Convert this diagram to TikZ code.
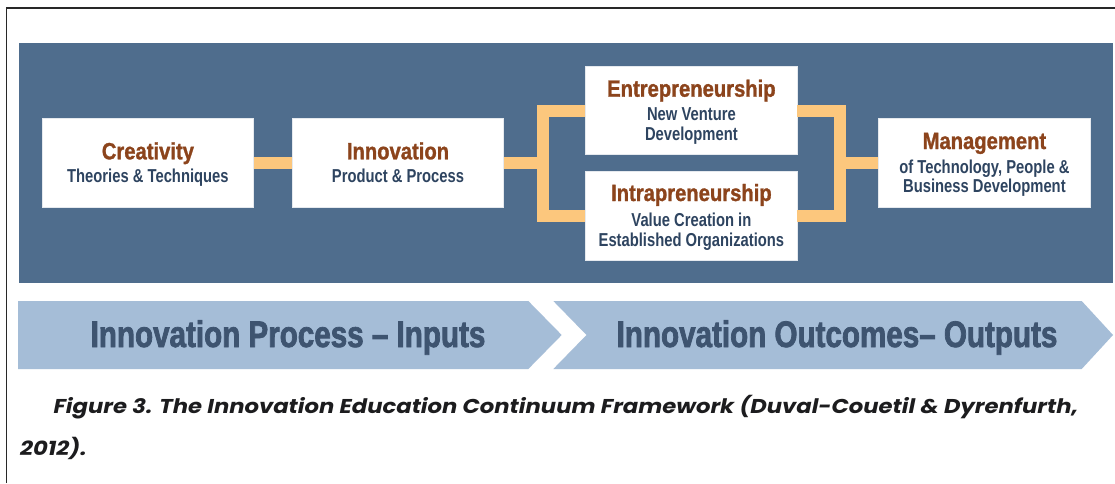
\documentclass[tikz,border=0pt]{standalone}
\usepackage{fontspec}
\usetikzlibrary{calc}
\newfontfamily\ttlfont{Liberation Sans Bold}[FakeStretch=0.86,FakeBold=1.2]
\newfontfamily\subfont{Liberation Sans Bold}[FakeStretch=0.79]
\newfontfamily\chevfont{Liberation Sans Bold}[FakeStretch=0.80,FakeBold=2]
\newfontfamily\capfont{Poppins Bold Italic}[FakeStretch=1.135]
\definecolor{panelc}{RGB}{79,109,141}
\definecolor{ttlc}{RGB}{140,68,28}
\definecolor{subc}{RGB}{46,68,96}
\definecolor{connc}{RGB}{252,199,125}
\definecolor{chevc}{RGB}{165,189,215}
\definecolor{chevtc}{RGB}{62,84,112}
\definecolor{capc}{RGB}{28,28,30}
\definecolor{bordc}{RGB}{40,40,40}
\begin{document}
\begin{tikzpicture}[x=1pt,y=-1pt,
  box/.style={fill=white, draw=white!85!panelc, line width=0.6pt, minimum width=211.5pt, minimum height=88.4pt, inner sep=0pt},
  conn/.style={draw=connc, line width=12pt},
  ttl/.style={font=\ttlfont\fontsize{23.5}{24}\selectfont, text=ttlc, anchor=base, inner sep=0pt},
  sub/.style={font=\subfont\fontsize{18.7}{19}\selectfont, text=subc, anchor=base, inner sep=0pt},
  chevtxt/.style={font=\chevfont\fontsize{37}{38}\selectfont, text=chevtc, anchor=base, inner sep=0pt},
  captxt/.style={font=\capfont\fontsize{20}{21}\selectfont, text=capc, anchor=base west, inner sep=0pt}
]
\useasboundingbox (0,0) rectangle (1115,483);
\fill[white] (0,0) rectangle (1115,483);
% frame
\draw[bordc, line width=1.3pt] (6.5,483) -- (6.5,8) -- (1115,8);
% panel
\fill[panelc] (18.6,43) rectangle (1113,283);
% boxes
\node[box] (cre) at (147.9,162.9) {};
\node[box] (inn) at (398,162.9) {};
\node[box] (ent) at (691.4,110.5) {};
\node[box] (int) at (691.4,215.7) {};
\node[box] (mgt) at (984.3,162.9) {};
% connectors
\coordinate (lj) at (543,162.9);
\coordinate (rj) at (840,162.9);
\draw[conn] (cre.east) -- (inn.west);
\draw[conn] (inn.east) -- (lj);
\draw[conn] (ent.west) -| (lj) |- (int.west);
\draw[conn] (ent.east) -| (rj) |- (int.east);
\draw[conn] (rj) -- (mgt.west);
% texts
\node[ttl] (cre-t) at (147.9,159.3) {Creativity};
\node[sub] (cre-s) at (147.9,182.7) {Theories \& Techniques};
\node[ttl] (inn-t) at (398,159.3) {Innovation};
\node[sub] (inn-s) at (398,182.7) {Product \& Process};
\node[ttl] (ent-t) at (691.4,96.7) {Entrepreneurship};
\node[sub] (ent-s1) at (691.4,120.7) {New Venture};
\node[sub] (ent-s2) at (691.4,140) {Development};
\node[ttl] (int-t) at (691.4,201) {Intrapreneurship};
\node[sub] (int-s1) at (691.4,226.7) {Value Creation in};
\node[sub] (int-s2) at (691.4,246) {Established Organizations};
\node[ttl] (mgt-t) at (984.4,149) {Management};
\node[sub] (mgt-s1) at (984.4,173.3) {of Technology, People \&};
\node[sub] (mgt-s2) at (984.4,192.7) {Business Development};
% chevrons
\fill[chevc] (18,301) -- (528.3,301) -- (561.7,335) -- (528.3,369) -- (18,369) -- cycle;
\fill[chevc] (553.3,301) -- (1081.7,301) -- (1113,335) -- (1081.7,369) -- (553.3,369) -- (586.5,335) -- cycle;
\node[chevtxt] (ch1) at (288,347) {Innovation Process – Inputs};
\node[chevtxt] (ch2) at (837,347) {Innovation Outcomes– Outputs};
% caption
\node[captxt] (cap1) at (53.3,413.3) {Figure 3. The Innovation Education Continuum Framework (Duval-Couetil \& Dyrenfurth,};
\node[captxt] (cap2) at (20,455) {2012).};
\end{tikzpicture}
\end{document}
